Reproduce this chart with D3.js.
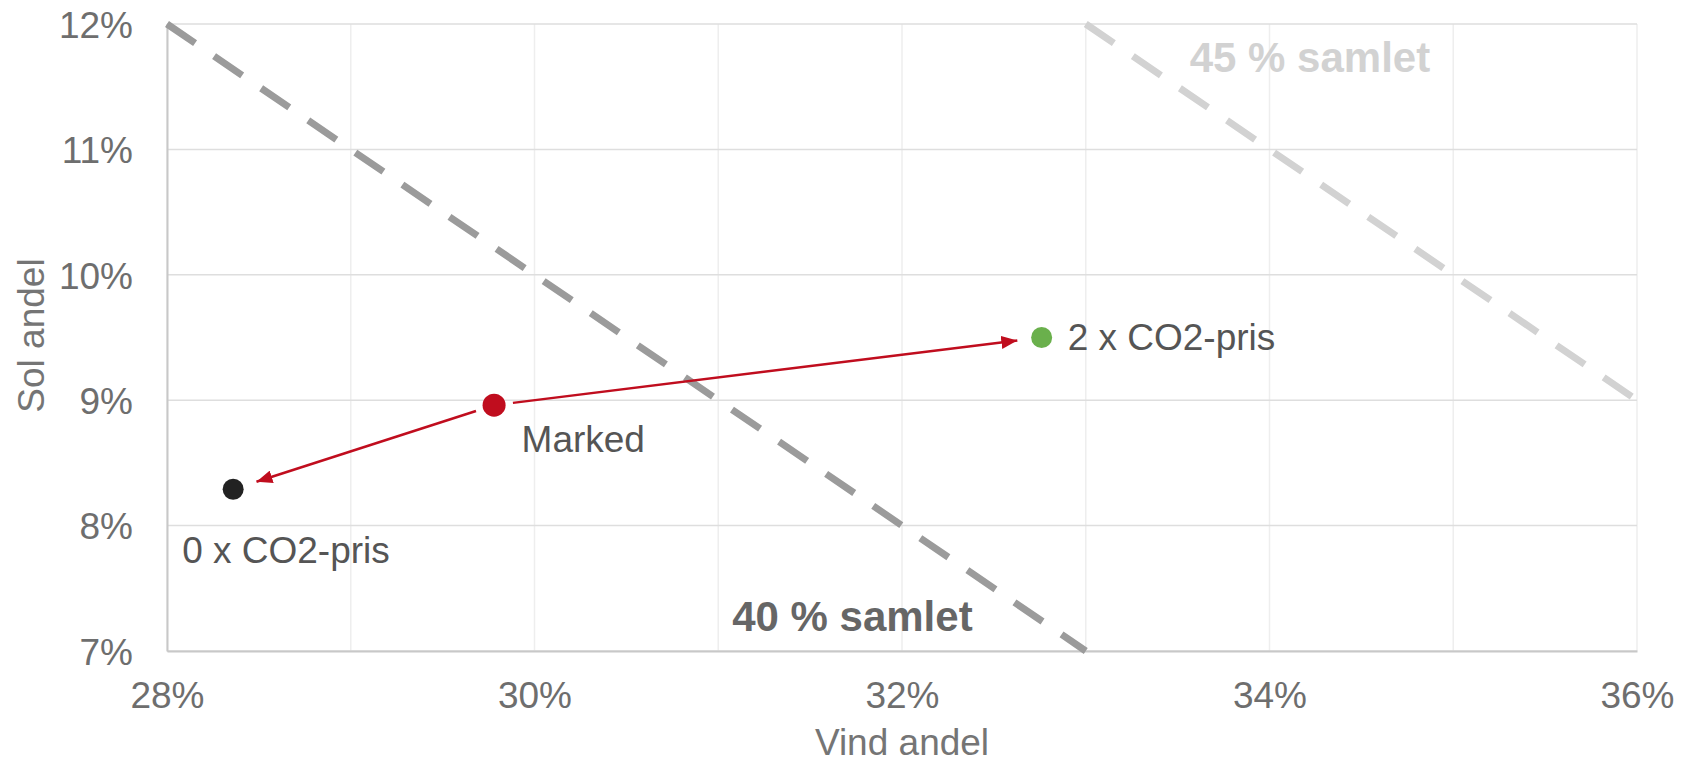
<!DOCTYPE html>
<html>
<head>
<meta charset="utf-8">
<script src="https://cdn.jsdelivr.net/npm/d3@7"></script>
<style>
  html, body { margin: 0; padding: 0; background: #fff; }
  svg { display: block; font-family: Arial, "Liberation Sans", sans-serif; }
</style>
</head>
<body>
<svg id="chart" width="1681" height="764"></svg>
<script>
// Wind share (x) vs solar share (y) for three CO2-price scenarios
const xTickValues = [0.28, 0.30, 0.32, 0.34, 0.36];
const xGridValues = [0.28, 0.29, 0.30, 0.31, 0.32, 0.33, 0.34, 0.35, 0.36];
const yTickValues = [0.07, 0.08, 0.09, 0.10, 0.11, 0.12];

const scenarioNames = ["0 x CO2-pris", "Marked", "2 x CO2-pris"];
const windShare = [0.2836, 0.2978, 0.3276];
const solarShare = [0.0829, 0.0896, 0.0950];
const scenarioColors = ["#222222", "#C00D1E", "#6AB04C"];

// Iso-lines where wind + solar equals a fixed total share
const totalShares = [0.40, 0.45];
const totalLabels = ["40 % samlet", "45 % samlet"];
const totalColors = ["#9b9b9b", "#d2d2d2"];

const W = 1681, H = 764;
const margin = { top: 24, right: 44, bottom: 113, left: 167 };
const svg = d3.select("#chart");

const x = d3.scaleLinear().domain([0.28, 0.36]).range([margin.left, W - margin.right]);
const y = d3.scaleLinear().domain([0.07, 0.12]).range([H - margin.bottom, margin.top]);
const pct = d3.format(".0%");

// Gridlines
svg.append("g")
  .selectAll("line").data(xGridValues).join("line")
  .attr("x1", d => x(d)).attr("x2", d => x(d))
  .attr("y1", y(0.12)).attr("y2", y(0.07))
  .attr("stroke", "#eeeeee").attr("stroke-width", 1.5);
svg.append("g")
  .selectAll("line").data(yTickValues).join("line")
  .attr("x1", x(0.28)).attr("x2", x(0.36))
  .attr("y1", d => y(d)).attr("y2", d => y(d))
  .attr("stroke", "#dedede").attr("stroke-width", 1.5);

// Axes
const xAxis = svg.append("g")
  .attr("transform", `translate(0,${y(0.07)})`)
  .call(d3.axisBottom(x).tickValues(xTickValues).tickFormat(pct).tickSize(0).tickPadding(0));
xAxis.select(".domain").attr("stroke", "#c8c8c8").attr("stroke-width", 2);
xAxis.selectAll("text")
  .attr("y", 57).attr("dy", 0)
  .attr("font-size", 37).attr("fill", "#6e6e6e");

const yAxis = svg.append("g")
  .attr("transform", `translate(${x(0.28)},0)`)
  .call(d3.axisLeft(y).tickValues(yTickValues).tickFormat(pct).tickSize(0).tickPadding(0));
yAxis.select(".domain").attr("stroke", "#c8c8c8").attr("stroke-width", 2);
yAxis.selectAll("text")
  .attr("x", -34).attr("dy", "0.36em")
  .attr("font-size", 37).attr("fill", "#6e6e6e");
svg.selectAll(".tick line").remove();

// Axis titles
svg.append("text")
  .attr("x", (x(0.28) + x(0.36)) / 2).attr("y", 755)
  .attr("text-anchor", "middle").attr("font-size", 37).attr("fill", "#757575")
  .text("Vind andel");
svg.append("text")
  .attr("transform", `translate(44,${(y(0.07) + y(0.12)) / 2 - 2}) rotate(-90)`)
  .attr("text-anchor", "middle").attr("font-size", 37).attr("fill", "#757575")
  .text("Sol andel");

// Total-share dashed lines
const totals = totalShares.map((t, i) => {
  const x0 = Math.max(0.28, t - 0.12), x1 = Math.min(0.36, t - 0.07);
  return { t, label: totalLabels[i], color: totalColors[i], pts: [[x0, t - x0], [x1, t - x1]] };
});
const line = d3.line().x(d => x(d[0])).y(d => y(d[1]));
svg.append("g").selectAll("path").data(totals).join("path")
  .attr("d", d => line(d.pts))
  .attr("fill", "none").attr("stroke", d => d.color)
  .attr("stroke-width", 7).attr("stroke-dasharray", "34 23");

svg.append("text")
  .attr("x", x(0.3173)).attr("y", y(0.0716))
  .attr("text-anchor", "middle").attr("font-size", 42).attr("font-weight", "bold")
  .attr("fill", "#666666").text(totals[0].label);
svg.append("text")
  .attr("x", x(0.3422)).attr("y", y(0.11617))
  .attr("text-anchor", "middle").attr("font-size", 42).attr("font-weight", "bold")
  .attr("fill", "#d2d2d2").text(totals[1].label);

// Arrows from the market scenario to the two alternatives
const defs = svg.append("defs");
defs.append("marker")
  .attr("id", "arrowHead").attr("viewBox", "0 0 16 13")
  .attr("refX", 16).attr("refY", 6.5)
  .attr("markerWidth", 16).attr("markerHeight", 13)
  .attr("markerUnits", "userSpaceOnUse").attr("orient", "auto")
  .append("path").attr("d", "M0,0 L16,6.5 L0,13 Z").attr("fill", "#C00D1E");

const base = 1;
const arrowTargets = [2, 0];
svg.append("g").selectAll("line").data(arrowTargets).join("line")
  .each(function (j) {
    const sx = x(windShare[base]), sy = y(solarShare[base]);
    const ex = x(windShare[j]), ey = y(solarShare[j]);
    const len = Math.hypot(ex - sx, ey - sy);
    const ux = (ex - sx) / len, uy = (ey - sy) / len;
    d3.select(this)
      .attr("x1", sx + ux * 19).attr("y1", sy + uy * 19)
      .attr("x2", ex - ux * 24.5).attr("y2", ey - uy * 24.5);
  })
  .attr("stroke", "#C00D1E").attr("stroke-width", 2.5)
  .attr("marker-end", "url(#arrowHead)");

// Scenario points
const idx = d3.range(scenarioNames.length);
svg.append("g").selectAll("circle").data(idx).join("circle")
  .attr("cx", i => x(windShare[i])).attr("cy", i => y(solarShare[i]))
  .attr("r", i => i === base ? 11.5 : 10.5)
  .attr("fill", i => scenarioColors[i]);

// Scenario labels
const labelOffsets = [[-51, 74], [27.5, 46.5], [26, 12.7]];
svg.append("g").selectAll("text").data(idx).join("text")
  .attr("x", i => x(windShare[i]) + labelOffsets[i][0])
  .attr("y", i => y(solarShare[i]) + labelOffsets[i][1])
  .attr("font-size", 37).attr("fill", "#555555")
  .text(i => scenarioNames[i]);
</script>
</body>
</html>
